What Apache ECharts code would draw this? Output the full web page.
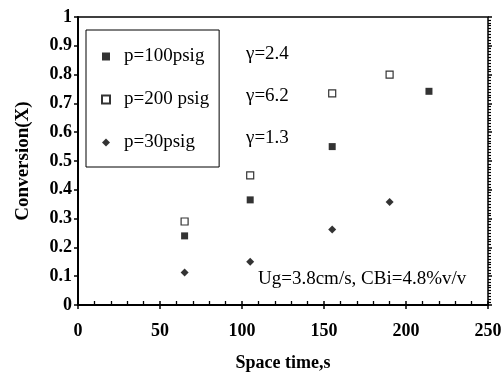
<!DOCTYPE html>
<html>
<head>
<meta charset="utf-8">
<script src="https://cdn.jsdelivr.net/npm/echarts@6/dist/echarts.min.js"></script>
<style>
  html, body { margin: 0; padding: 0; background: #fff; }
  #chart { width: 504px; height: 372px; }
</style>
</head>
<body>
<div id="chart"></div>
<script>
// ---- Data ----
const seriesNames = ['p=100psig', 'p=200 psig', 'p=30psig'];
const gammaLabels = ['\u03b3=2.4', '\u03b3=6.2', '\u03b3=1.3'];
const spaceTime100 = [65, 105, 155, 214];
const conv100 = [0.24, 0.365, 0.55, 0.742];
const spaceTime200 = [65, 105, 155, 190];
const conv200 = [0.29, 0.45, 0.735, 0.80];
const spaceTime30 = [65, 105, 155, 190];
const conv30 = [0.113, 0.15, 0.262, 0.358];
const xTicks = { min: 0, max: 250, interval: 50 };
const yTicks = { min: 0, max: 1, interval: 0.1 };
const noteText = 'Ug=3.8cm/s, CBi=4.8%v/v';
const xName = 'Space time,s';
const yName = 'Conversion(X)';

const pair = (xs, ys) => xs.map((x, i) => [x, ys[i]]);

const serif = '"Liberation Serif", "Times New Roman", serif';
const chart = echarts.init(document.getElementById('chart'), null, { renderer: 'canvas' });

const G = { left: 78, right: 16, top: 17, bottom: 67 };
const plotH = 372 - G.top - G.bottom;
const plotW = 504 - G.left - G.right;

const tickLabel = { color: '#000', fontFamily: serif, fontWeight: 'bold', fontSize: 18 };

chart.setOption({
  animation: false,
  backgroundColor: '#fff',
  grid: {
    left: G.left, right: G.right, top: G.top, bottom: G.bottom,
    show: true, borderColor: '#000', borderWidth: 1.5,
    containLabel: false, outerBoundsMode: 'none'
  },
  legend: {
    orient: 'vertical',
    left: 86, top: 30,
    data: seriesNames,
    itemWidth: 8, itemHeight: 8,
    itemGap: 24,
    padding: [17, 10, 15, 15],
    borderColor: '#000', borderWidth: 1,
    backgroundColor: '#fff',
    selectedMode: false,
    textStyle: { color: '#000', fontFamily: serif, fontSize: 19, lineHeight: 18, padding: [0, 0, 0, 9] }
  },
  xAxis: [
    {
      type: 'value', position: 'bottom', ...xTicks,
      name: xName, nameLocation: 'middle', nameGap: 49,
      nameTextStyle: { color: '#000', fontFamily: serif, fontWeight: 'bold', fontSize: 18 },
      axisLine: { show: true, lineStyle: { color: '#000', width: 2 } },
      axisTick: { show: true, inside: false, length: 4, lineStyle: { color: '#000', width: 1.5 } },
      axisLabel: { ...tickLabel, margin: 17 },
      splitLine: { show: false }
    },
    {
      type: 'value', position: 'top', offset: -plotH, ...xTicks,
      axisLine: { show: false },
      axisTick: { show: true, inside: false, length: 4, lineStyle: { color: '#000', width: 1.5 } },
      minorTick: { show: true, splitNumber: 5, length: 4, lineStyle: { color: '#000', width: 1.3 } },
      axisLabel: { show: false },
      splitLine: { show: false }
    }
  ],
  yAxis: [
    {
      type: 'value', position: 'left', ...yTicks,
      name: yName, nameLocation: 'middle', nameGap: 45,
      nameTextStyle: { color: '#000', fontFamily: serif, fontWeight: 'bold', fontSize: 19 },
      axisLine: { show: true, lineStyle: { color: '#000', width: 2 } },
      axisTick: { show: true, inside: false, length: 4, lineStyle: { color: '#000', width: 1.5 } },
      axisLabel: { ...tickLabel, margin: 6 },
      splitLine: { show: false }
    },
    {
      type: 'value', position: 'right', offset: -plotW, ...yTicks,
      axisLine: { show: false },
      axisTick: { show: true, inside: false, length: 4, lineStyle: { color: '#000', width: 1.5 } },
      minorTick: { show: true, splitNumber: 10, length: 3, lineStyle: { color: '#000', width: 1.2 } },
      axisLabel: { show: false },
      splitLine: { show: false }
    }
  ],
  series: [
    {
      name: seriesNames[0], type: 'scatter', xAxisIndex: 0, yAxisIndex: 0,
      symbol: 'rect', symbolSize: 7,
      itemStyle: { color: '#000' },
      data: pair(spaceTime100, conv100)
    },
    {
      name: seriesNames[1], type: 'scatter', xAxisIndex: 0, yAxisIndex: 0,
      symbol: 'rect', symbolSize: 7,
      itemStyle: { color: '#fff', borderColor: '#000', borderWidth: 1.2 },
      data: pair(spaceTime200, conv200)
    },
    {
      name: seriesNames[2], type: 'scatter', xAxisIndex: 0, yAxisIndex: 0,
      symbol: 'diamond', symbolSize: 8,
      itemStyle: { color: '#000' },
      data: pair(spaceTime30, conv30)
    }
  ],
  graphic: [
    ...gammaLabels.map((t, i) => ({
      type: 'text', left: 246, top: 45 + i * 42,
      style: { text: t, fill: '#000', font: '19px ' + serif }
    })),
    {
      type: 'text', left: 258, top: 270,
      style: { text: noteText, fill: '#000', font: '19px ' + serif }
    }
  ]
});
</script>
</body>
</html>
